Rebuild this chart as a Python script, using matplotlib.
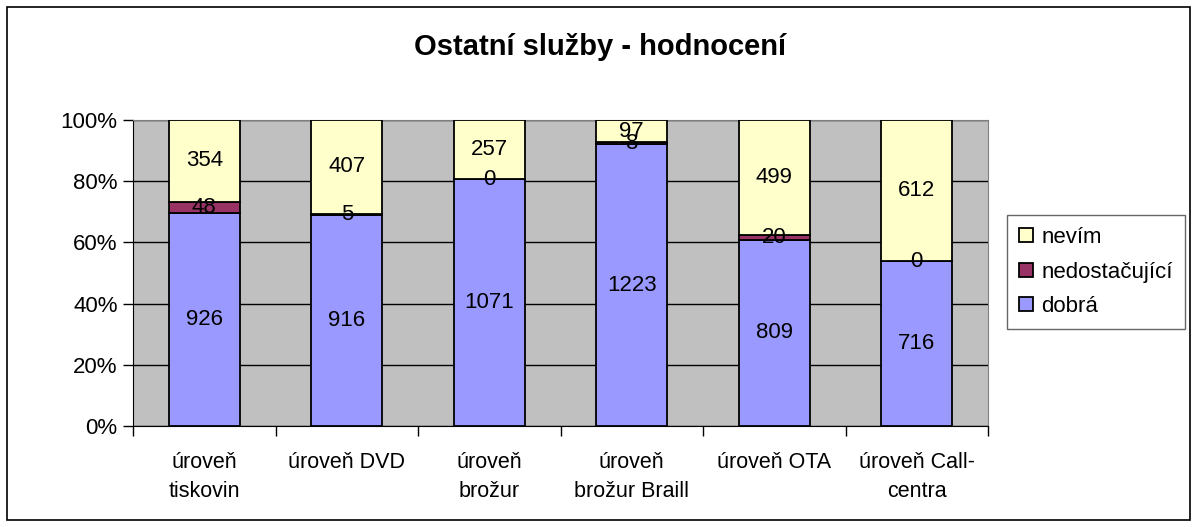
import matplotlib.pyplot as plt
from matplotlib.patches import Rectangle
import numpy as np

plt.rcParams['font.family'] = ['Liberation Sans', 'DejaVu Sans']

categories = ['úroveň\ntiskovin', 'úroveň DVD', 'úroveň\nbrožur',
              'úroveň\nbrožur Braill', 'úroveň OTA', 'úroveň Call-\ncentra']
dobra = [926, 916, 1071, 1223, 809, 716]
nedostacujici = [48, 5, 0, 8, 20, 0]
nevim = [354, 407, 257, 97, 499, 612]

series = [('dobrá', dobra, '#9999FF'),
          ('nedostačující', nedostacujici, '#993366'),
          ('nevím', nevim, '#FFFFCC')]

W, H = 1192, 527
fig = plt.figure(figsize=(W / 100, H / 100), dpi=100, facecolor='white')
ax = fig.add_axes([133 / W, 1 - 426 / H, 855 / W, 306 / H])
ax.set_facecolor('#C0C0C0')

totals = np.array(dobra) + np.array(nedostacujici) + np.array(nevim)
x = np.arange(len(categories))
bottom = np.zeros(len(categories))
handles = []
for name, vals, col in series:
    share = np.array(vals) / totals * 100
    bars = ax.bar(x, share, 0.5, bottom=bottom, color=col, edgecolor='black',
                  linewidth=1.3, label=name, zorder=3)
    for xi, b, s, v in zip(x, bottom, share, vals):
        ax.text(xi, b + s / 2, str(v), ha='center', va='center', fontsize=16, zorder=4)
    bottom += share
    handles.append(bars)

ax.set_xlim(-0.5, len(categories) - 0.5)
ax.set_ylim(0, 100)
ax.set_yticks(np.arange(0, 101, 20))
ax.set_yticklabels([f'{v}%' for v in range(0, 101, 20)], fontsize=16)
ax.yaxis.grid(True, color='black', linewidth=1, zorder=1)
ax.set_axisbelow(True)

ax.set_xticks(x)
ax.set_xticklabels(categories, fontsize=15.5, linespacing=1.45)
ax.tick_params(axis='x', length=0, pad=19)
ax.set_xticks(np.arange(-0.5, len(categories)), minor=True)
ax.tick_params(axis='x', which='minor', length=7, direction='out', width=1)
ax.tick_params(axis='y', length=7, direction='out', width=1, pad=4)

for side in ['top', 'right']:
    ax.spines[side].set_color('#808080')
for side in ['left', 'bottom']:
    ax.spines[side].set_color('black')

fig.text(600 / W, 1 - 47 / H, 'Ostatní služby - hodnocení', ha='center', va='center',
         fontsize=21, fontweight='bold')

leg = fig.legend(handles[::-1], [s[0] for s in series][::-1],
                 loc='upper left', bbox_to_anchor=(1007 / W, 1 - 215 / H),
                 fontsize=16, frameon=True, fancybox=False, edgecolor='#404040',
                 handlelength=0.6, handleheight=0.6, handletextpad=0.4,
                 borderpad=0.55, labelspacing=0.6, borderaxespad=0)
leg.get_frame().set_linewidth(1)

fig.patches.append(Rectangle((7 / W, 7 / H), 1183 / W, 513 / H, transform=fig.transFigure,
                             fill=False, edgecolor='black', linewidth=1.2))

plt.savefig('out.png', dpi=100)
